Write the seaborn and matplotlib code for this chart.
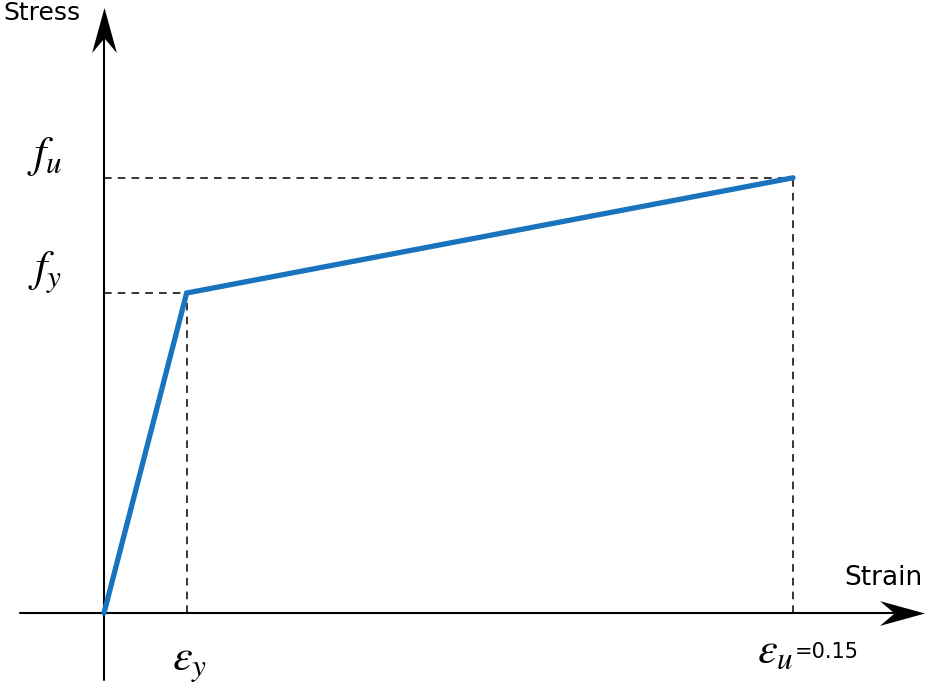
import numpy as np
import pandas as pd
import matplotlib
matplotlib.use("Agg")
import matplotlib.pyplot as plt
from matplotlib.path import Path
import seaborn as sns

# bilinear stress-strain model (stress normalised to f_y)
strain = [0.0, 0.018, 0.15]
stress = [0.0, 1.0, 1.36]
point_names = ["origin", "yield", "ultimate"]

data = pd.DataFrame({"strain": strain, "stress": stress, "point": point_names})

sns.set_style("white")
plt.rcParams["mathtext.fontset"] = "stix"
plt.rcParams["font.family"] = ["DejaVu Sans"]
plt.rcParams["text.color"] = "black"

fig = plt.figure(figsize=(9.27, 6.85), dpi=100)
ax = fig.add_axes([0, 0, 1, 1])

# dashed guide lines to the characteristic points
eps_y, eps_u = data["strain"][1], data["strain"][2]
f_y, f_u = data["stress"][1], data["stress"][2]
dash = dict(color="black", ls=(0, (5, 4)), lw=1.1)
ax.plot([0, eps_y], [f_y, f_y], **dash)
ax.plot([eps_y, eps_y], [0, f_y], **dash)
ax.plot([0, eps_u], [f_u, f_u], **dash)
ax.plot([eps_u, eps_u], [0, f_u], **dash)

sns.lineplot(data=data, x="strain", y="stress", color="#1a74bd", lw=3.8,
             ax=ax, zorder=3, solid_joinstyle="miter")

# axes lines
ax.plot([-0.0182, 0.172], [0, 0], color="black", lw=1.5)
ax.plot([0, 0], [-0.21, 1.83], color="black", lw=1.5)

# stealth-style arrow heads
up = Path([(0, 1), (0.55, -1), (0, -0.35), (-0.55, -1), (0, 1)],
          [Path.MOVETO, Path.LINETO, Path.LINETO, Path.LINETO, Path.CLOSEPOLY])
right = Path([(1, 0), (-1, 0.55), (-0.35, 0), (-1, -0.55), (1, 0)],
             [Path.MOVETO, Path.LINETO, Path.LINETO, Path.LINETO, Path.CLOSEPOLY])
ax.plot([0], [1.8234], marker=up, ms=32.4, color="black", mew=0)
ax.plot([0.1737], [0], marker=right, ms=32.4, color="black", mew=0)

ax.set_xlim(-0.02264, 0.17917)
ax.set_ylim(-0.225, 1.9156)
ax.axis("off")

ax.text(-0.0218, 1.912, "Stress", fontsize=18, ha="left", va="top")
ax.text(0.1781, 0.109, "Strain", fontsize=19, ha="right", va="center")
ax.text(-0.0128, f_u + 0.065, "$f_u$", fontsize=32, ha="center", va="center")
ax.text(-0.0128, f_y + 0.066, "$f_y$", fontsize=32, ha="center", va="center")
ax.text(eps_y + 0.0007, -0.156, r"$\varepsilon_y$", fontsize=32, ha="center", va="center")
ax.text(0.1422, -0.116, r"$\varepsilon_u$", fontsize=32, ha="left", va="center")
ax.text(0.1503, -0.122, "=0.15", fontsize=15, ha="left", va="center")

fig.savefig("out.png", dpi=100)
